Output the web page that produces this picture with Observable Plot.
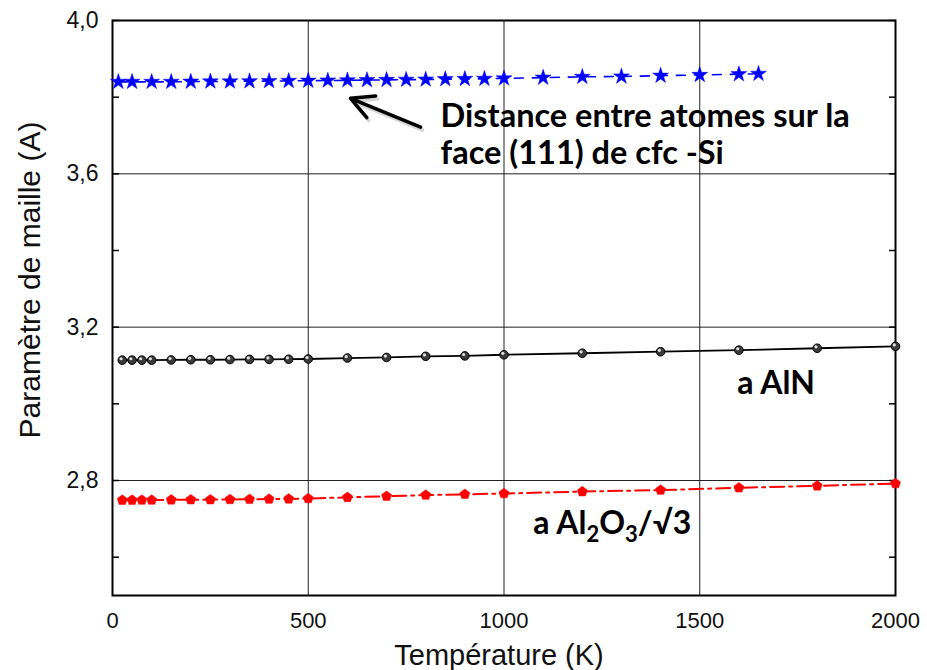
<!DOCTYPE html>
<html>
<head>
<meta charset="utf-8">
<script src="https://cdn.jsdelivr.net/npm/d3@7"></script>
<script src="https://cdn.jsdelivr.net/npm/@observablehq/plot@0.6"></script>
<style>
  html, body { margin: 0; padding: 0; background: #fff; }
  #chart svg { display: block; }
</style>
</head>
<body>
<div id="chart"></div>
<script>
// ---- data ----
const siT = [15, 50, 100, 150, 200, 250, 300, 350, 400, 450, 500, 550, 600, 650, 700, 750, 800, 850, 900, 950, 1000, 1100, 1200, 1300, 1400, 1500, 1600, 1650];
const siA = [3.840, 3.840, 3.840, 3.840, 3.8405, 3.841, 3.841, 3.8415, 3.842, 3.8425, 3.843, 3.8435, 3.844, 3.8445, 3.845, 3.8455, 3.846, 3.847, 3.8475, 3.848, 3.849, 3.851, 3.853, 3.854, 3.856, 3.858, 3.860, 3.861];

const subT = [25, 50, 75, 100, 150, 200, 250, 300, 350, 400, 450, 500, 600, 700, 800, 900, 1000, 1200, 1400, 1600, 1800, 2000];
const alnA = [3.114, 3.114, 3.114, 3.114, 3.1145, 3.115, 3.115, 3.1155, 3.116, 3.116, 3.1165, 3.117, 3.1195, 3.121, 3.124, 3.125, 3.128, 3.132, 3.136, 3.140, 3.145, 3.150];
const al2o3A = [2.7488, 2.7488, 2.749, 2.749, 2.7495, 2.750, 2.750, 2.7505, 2.751, 2.7515, 2.752, 2.753, 2.756, 2.759, 2.762, 2.764, 2.766, 2.771, 2.775, 2.781, 2.786, 2.792];

const xTicks = [0, 500, 1000, 1500, 2000];
const yTicks = [2.8, 3.2, 3.6, 4.0];
const yMinorTicks = [2.6, 2.8, 3.0, 3.2, 3.4, 3.6, 3.8, 4.0];
const xTitle = "Température (K)";
const yTitle = "Paramètre de maille (A)";
const siLabel = "Distance entre atomes sur la\nface (111) de cfc -Si";
const alnLabel = "a AlN";
const al2o3Label = "a Al2O3/√3";

// ---- tables ----
const si = siT.map((t, i) => ({T: t, a: siA[i]}));
const aln = subT.map((t, i) => ({T: t, a: alnA[i]}));
const al2o3 = subT.map((t, i) => ({T: t, a: al2o3A[i]}));

const pentagon = {
  draw(context, size) {
    const r = Math.sqrt(size / Math.PI) * 1.15;
    for (let k = 0; k < 5; k++) {
      const ang = -Math.PI / 2 + k * 2 * Math.PI / 5;
      const px = r * Math.cos(ang), py = r * Math.sin(ang);
      if (k === 0) context.moveTo(px, py); else context.lineTo(px, py);
    }
    context.closePath();
  }
};

const axisFont = "'Liberation Sans', Arial, sans-serif";
const annFont = "Lato, 'Open Sans', sans-serif";

const chart = Plot.plot({
  width: 927,
  height: 670,
  marginLeft: 112,
  marginRight: 32,
  marginTop: 20,
  marginBottom: 75,
  x: {domain: [0, 2000]},
  y: {domain: [2.5, 4.0]},
  style: {background: "#fff"},
  marks: [
    Plot.gridX(xTicks.slice(1, -1), {stroke: "#222", strokeOpacity: 1, strokeWidth: 1}),
    Plot.gridY(yTicks.slice(0, -1), {stroke: "#222", strokeOpacity: 1, strokeWidth: 1}),
    Plot.axisX({ticks: xTicks, tickSize: 0, tickPadding: 17, fontSize: 22, fontFamily: axisFont, fill: "#111", tickFormat: d => String(d), label: null}),
    Plot.axisY({ticks: yTicks, tickSize: 0, tickPadding: 14, fontSize: 23, fontFamily: axisFont, fill: "#111", tickFormat: d => d.toFixed(1).replace(".", ","), label: null}),
    Plot.axisY({anchor: "left", ticks: yMinorTicks, tickSize: -7, tickFormat: () => "", label: null, strokeWidth: 1.5, stroke: "#000"}),
    Plot.axisY({anchor: "right", ticks: yMinorTicks, tickSize: -7, tickFormat: () => "", label: null, strokeWidth: 1.5, stroke: "#000"}),
    Plot.frame({stroke: "#000", strokeWidth: 2}),
    // Si
    Plot.line(si, {x: "T", y: "a", stroke: "#0000ff", strokeWidth: 1.6, strokeDasharray: "9,9"}),
    Plot.dot(si, {x: "T", y: "a", symbol: "star", r: 5, fill: "#0000ff", stroke: "#0000ff", strokeWidth: 0.5}),
    // AlN
    Plot.line(aln, {x: "T", y: "a", stroke: "#000", strokeWidth: 1.8}),
    Plot.dot(aln, {x: "T", y: "a", r: 4.3, fill: "#3a3a3a", stroke: "#000", strokeWidth: 1}),
    Plot.dot(aln, {x: "T", y: "a", r: 1.6, fill: "#e0e0e0", dx: -1.2, dy: -1.4}),
    // Al2O3
    Plot.line(al2o3, {x: "T", y: "a", stroke: "#ff0000", strokeWidth: 2, strokeDasharray: "14,5,3,5"}),
    Plot.dot(al2o3, {x: "T", y: "a", symbol: pentagon, r: 4.6, fill: "#ff0000", stroke: "#ff0000", strokeWidth: 0.5}),
    // annotations
    Plot.arrow([0], {x1: 787, y1: 3.722, x2: 608, y2: 3.797, stroke: "#888", strokeOpacity: 0.35, strokeWidth: 3.5, headLength: 16, headAngle: 55, dx: 2, dy: 3}),
    Plot.arrow([0], {x1: 787, y1: 3.722, x2: 608, y2: 3.797, stroke: "#000", strokeWidth: 3.5, headLength: 16, headAngle: 55}),
    Plot.text([siLabel], {x: 838, y: 3.7044, text: d => d, textAnchor: "start", lineHeight: 1.125, fontSize: 32.5, fontWeight: "bold", fontFamily: annFont, fill: "#000"}),
    Plot.text([alnLabel], {x: 1596, y: 3.052, text: d => d, textAnchor: "start", fontSize: 32, fontWeight: "bold", fontFamily: annFont, fill: "#000"}),
    Plot.text([al2o3Label], {x: 1075, y: 2.686, text: d => d, textAnchor: "start", fontSize: 32, fontWeight: "bold", fontFamily: annFont, fill: "#000"}),
    // axis titles
    Plot.text([yTitle], {frameAnchor: "left", text: d => d, rotate: -90, textAnchor: "middle", lineAnchor: "middle", dx: -82, dy: -28, fontSize: 30, fontFamily: axisFont, fill: "#111"}),
    Plot.text([xTitle], {frameAnchor: "bottom", text: d => d, textAnchor: "middle", lineAnchor: "middle", dx: -5, dy: 60, fontSize: 29, fontFamily: axisFont, fill: "#111"})
  ]
});

// subscripts in the Al2O3 label
chart.querySelectorAll("text").forEach(t => {
  if (t.textContent === al2o3Label) {
    t.textContent = "";
    const parts = [["a Al", 0, null], ["2", 8, "22px"], ["O", -8, null], ["3", 8, "22px"], ["/√3", -8, null]];
    parts.forEach(([s, dy, fs]) => {
      const ts = document.createElementNS("http://www.w3.org/2000/svg", "tspan");
      ts.textContent = s;
      if (dy) ts.setAttribute("dy", dy);
      if (fs) ts.setAttribute("font-size", fs);
      t.appendChild(ts);
    });
  }
});

document.getElementById("chart").appendChild(chart);
</script>
</body>
</html>
